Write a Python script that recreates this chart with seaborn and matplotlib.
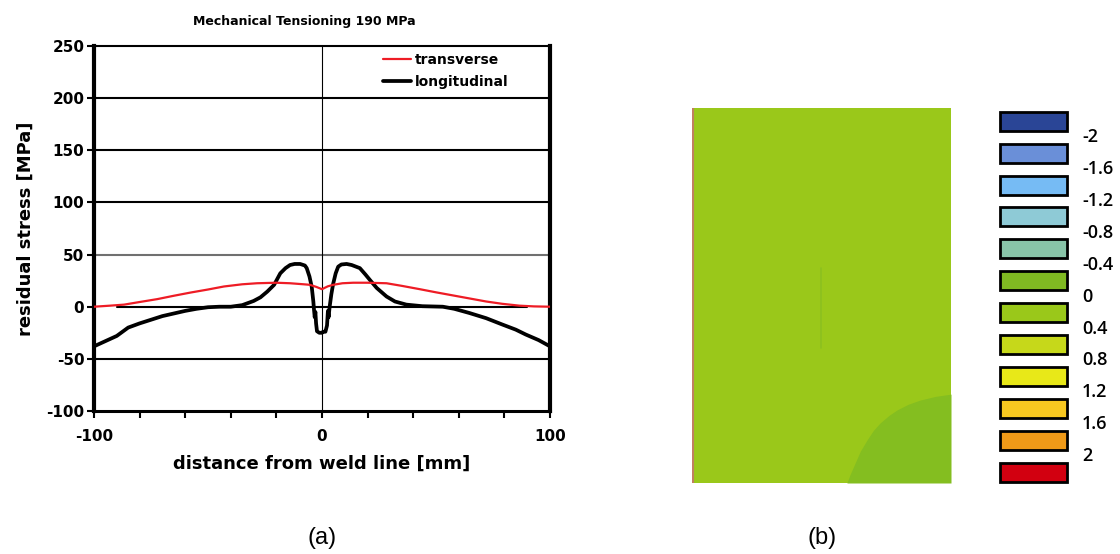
import matplotlib
matplotlib.use('Agg')
import pandas as pd
import seaborn as sns
import matplotlib.pyplot as plt

# (a) residual stress profiles
trans_x = [-100, -93, -86.8, -80, -72.2, -65, -57.6, -50, -43, -35, -28.5, -20, -14, -8, -5.3,
           -2.5, 0, 2.5, 4.9, 9, 13.7, 20, 28.3, 35, 42.9, 50, 57.5, 65, 72, 79, 86.6, 93, 100]
trans_y = [0, 1, 2, 4.5, 7.3, 10.5, 13.6, 16.5, 19.4, 21.5, 22.5, 23, 22.5, 21.5, 21,
           19, 16.8, 19.5, 21, 22.5, 23, 23, 22.5, 20, 16.8, 13.8, 10.8, 7.8, 5, 2.8, 1, 0.3, 0]

long_x = [-100, -95, -90, -85, -80, -75, -70, -65, -60, -55, -50, -45, -40, -35,
          -30, -27, -24, -21, -18.3, -16, -14, -12, -9.6, -7.5, -6.7, -5.5, -4.5, -3.8,
          -3.5, -3.2, -2.9, -2.6, -2.2, -1.2, 0, 0.5, 1.5, 2.2, 2.6, 2.9, 3.3, 4.1, 4.9,
          6, 7.1, 8.5, 10.8, 13, 16.6, 19, 21, 24, 28.3, 32, 37, 44, 53, 58, 64.6, 72,
          79, 85, 89.4, 95, 100]
long_y = [-38, -33, -28, -20, -16, -12.5, -9, -6.5, -4, -2, -0.5, 0, 0, 1.5,
          5.5, 9, 14.5, 21, 32, 37, 40, 41, 41, 39.5, 37, 29, 19, 5,
          -3, -10, -5, -16, -23.5, -25, -25, -24, -24, -18, -4, -10, -1, 12, 22,
          32, 38.4, 40.5, 41, 40, 37, 31, 25.7, 18, 9.8, 5, 2, 0.5, 0, -2, -6, -11,
          -17, -22, -26.7, -32, -38]

zero_x = [-90, 90]
zero_y = [0, 0]

# (b) contour legend
level_labels = ['-2', '-1.6', '-1.2', '-0.8', '-0.4', '0', '0.4', '0.8', '1.2', '1.6', '2']
level_colors = ['#2a4596', '#6a8fd8', '#76bbf4', '#8ecad6', '#88c4a8', '#80ba22',
                '#9ac81a', '#c6d81a', '#e8e818', '#f8c820', '#f09a18', '#d20010']
# boundary of the darker (-0.4..0) zone, in plate fractions
zone_x = [0.598, 0.610, 0.629, 0.650, 0.676, 0.700, 0.726, 0.760, 0.792, 0.835, 0.880, 0.940, 1.0]
zone_y = [0.0, 0.022, 0.052, 0.085, 0.115, 0.140, 0.160, 0.180, 0.195, 0.210, 0.221, 0.231, 0.237]

sns.set_style('white')
plt.rcParams['font.family'] = ['DejaVu Sans']
plt.rcParams['axes.unicode_minus'] = False
plt.rcParams['text.color'] = 'black'
plt.rcParams['axes.labelcolor'] = 'black'

W, H = 1120, 554
fig = plt.figure(figsize=(W / 100, H / 100), dpi=100)

def box(l, t, r, b):
    return [l / W, 1 - b / H, (r - l) / W, (b - t) / H]

# ---------- panel (a)
ax = fig.add_axes(box(94, 46, 550, 411))
df_t = pd.DataFrame({'x': trans_x, 'y': trans_y})
df_l = pd.DataFrame({'x': long_x, 'y': long_y})

for yy in [-50, 100, 150, 200]:
    ax.axhline(yy, color='black', lw=1.5, zorder=1)
ax.axhline(50, color='#707070', lw=1.5, zorder=1)
ax.axvline(0, color='black', lw=0.8, zorder=1)
ax.plot(zero_x, zero_y, color='black', lw=1.5, zorder=1)

sns.lineplot(data=df_t, x='x', y='y', ax=ax, color='#ee1c25', lw=1.6,
             label='transverse', sort=False, zorder=3)
sns.lineplot(data=df_l, x='x', y='y', ax=ax, color='black', lw=2.7,
             label='longitudinal', sort=False, zorder=2)

ax.set_xlim(-100, 100)
ax.set_ylim(-100, 250)
ax.set_xticks([-100, 0, 100])
ax.set_xticks(range(-100, 101, 20), minor=True)
ax.set_yticks(range(-100, 251, 50))
ax.tick_params(axis='both', which='both', direction='out', length=5, width=1.5,
               colors='black', labelsize=11)
ax.tick_params(axis='x', which='both', bottom=True, pad=8)
ax.tick_params(axis='y', left=True, pad=2)
for lab in ax.get_xticklabels() + ax.get_yticklabels():
    lab.set_fontweight('bold')
for side, w in [('left', 3), ('right', 3), ('bottom', 2.2), ('top', 1.5)]:
    ax.spines[side].set_visible(True)
    ax.spines[side].set_color('black')
    ax.spines[side].set_linewidth(w)

ax.set_xlabel('distance from weld line [mm]', fontsize=13, fontweight='bold', labelpad=8)
ax.set_ylabel('residual stress [MPa]', fontsize=13, fontweight='bold', labelpad=8)
fig.text(304 / W, 1 - 21 / H, 'Mechanical Tensioning 190 MPa', fontsize=9,
         fontweight='bold', ha='center', va='center')

leg = ax.legend(loc='upper left', bbox_to_anchor=(383 / W, 1 - 53 / H),
                bbox_transform=fig.transFigure, frameon=False, fontsize=10,
                handlelength=2.0, handletextpad=0.3, labelspacing=0.55,
                borderpad=0, borderaxespad=0)
for t in leg.get_texts():
    t.set_fontweight('bold')

fig.text(322 / W, 1 - 538 / H, '(a)', fontsize=17, family='Liberation Sans',
         ha='center', va='center')
fig.text(822 / W, 1 - 538 / H, '(b)', fontsize=17, family='Liberation Sans',
         ha='center', va='center')

# ---------- panel (b): plate contour
axb = fig.add_axes(box(692, 108, 951, 483))
axb.set_xlim(0, 1)
axb.set_ylim(0, 1)
axb.fill_between([0, 1], [0, 0], [1, 1], color=level_colors[6], lw=0)
axb.fill_between(zone_x, [0] * len(zone_x), zone_y, color='#84be20', lw=0)
axb.plot([0.498, 0.498], [0.36, 0.573], color='#8cc020', lw=1.2)
axb.axvline(0.002, color='#c08060', lw=1.5)
axb.axis('off')

# ---------- colour legend
axl = fig.add_axes(box(990, 100, 1120, 490))
pos = list(range(len(level_colors)))
axl.barh(pos, [67] * len(pos), left=1000, height=0.596, color=level_colors,
         edgecolor='black', linewidth=2)
for i, lab in enumerate(level_labels):
    axl.text(1082, i + 0.5, lab, fontsize=13, family='Open Sans', fontweight='semibold',
             ha='left', va='center', clip_on=False)
axl.set_xlim(990, 1120)
axl.set_ylim(11.56, -0.665)
axl.axis('off')

fig.savefig('out.png', dpi=100)
